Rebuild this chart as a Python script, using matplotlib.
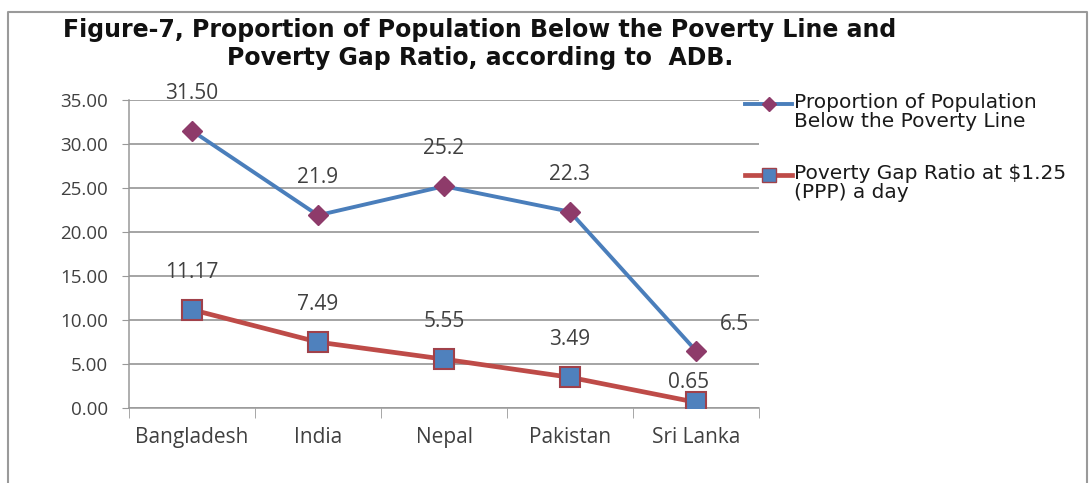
import matplotlib
matplotlib.use("Agg")
import matplotlib.pyplot as plt
from matplotlib.lines import Line2D

countries = ["Bangladesh", "India", "Nepal", "Pakistan", "Sri Lanka"]
below_poverty = [31.50, 21.9, 25.2, 22.3, 6.5]
below_poverty_labels = ["31.50", "21.9", "25.2", "22.3", "6.5"]
gap_ratio = [11.17, 7.49, 5.55, 3.49, 0.65]
gap_ratio_labels = ["11.17", "7.49", "5.55", "3.49", "0.65"]
y_ticks = [0, 5, 10, 15, 20, 25, 30, 35]

series1_name = "Proportion of Population\nBelow the Poverty Line"
series2_name = "Poverty Gap Ratio at $1.25\n(PPP) a day"
title = "Figure-7, Proportion of Population Below the Poverty Line and\nPoverty Gap Ratio, according to  ADB."

W, H = 1091, 483
fig = plt.figure(figsize=(W / 100, H / 100), dpi=100)
fig.patch.set_facecolor("white")

def fx(px):
    return px / W

def fy(py):
    return 1 - py / H

ax = fig.add_axes([fx(129), fy(408), fx(759) - fx(129), fy(100) - fy(408)])

blue = "#4A7EBB"
maroon = "#8E3B6A"
red = "#BE4B48"
sq_blue = "#4F81BD"
label_font = "Open Sans"
text_grey = "#404040"

x = list(range(len(countries)))
ax.plot(x, below_poverty, color=blue, lw=2.8, marker="D", ms=10,
        mfc=maroon, mec=maroon, zorder=4)
ax.plot(x, gap_ratio, color=red, lw=3.4, marker="s", ms=14,
        mfc=sq_blue, mec="#A0414A", mew=1.5, zorder=4)

last = len(countries) - 1
for i, (v, t) in enumerate(zip(below_poverty, below_poverty_labels)):
    off = (0, 27) if i < last else (28, 19)
    ax.annotate(t, (i, v), xytext=off, textcoords="offset points",
                ha="center", va="center", fontsize=15, color=text_grey,
                family=label_font)
for i, (v, t) in enumerate(zip(gap_ratio, gap_ratio_labels)):
    off = (0, 27) if i < last else (-5, 14)
    ax.annotate(t, (i, v), xytext=off, textcoords="offset points",
                ha="center", va="center", fontsize=15, color=text_grey,
                family=label_font)

ax.set_xlim(-0.5, len(countries) - 0.5)
ax.set_ylim(0, 35)
ax.set_yticks(y_ticks)
ax.set_yticklabels([f"{v:.2f}" for v in y_ticks], fontsize=13.5,
                   color=text_grey, family=label_font)
ax.set_xticks(x)
ax.set_xticklabels(countries, fontsize=15, color=text_grey, family=label_font)
ax.tick_params(axis="x", length=0, pad=14)
ax.set_xticks([i - 0.5 for i in range(len(countries) + 1)], minor=True)
ax.tick_params(axis="x", which="minor", length=7, color="#999999", direction="out")
ax.tick_params(axis="y", length=5, color="#999999", pad=10)

ax.grid(axis="y", color="#8C8C8C", lw=1.1)
ax.set_axisbelow(True)
for s in ("top", "right"):
    ax.spines[s].set_visible(False)
for s in ("left", "bottom"):
    ax.spines[s].set_color("#999999")
    ax.spines[s].set_linewidth(1.1)

fig.text(fx(480), fy(44), title, ha="center", va="center", fontsize=17,
         fontweight="bold", family="DejaVu Sans", linespacing=1.2,
         color="#111111")

# legend entries
for (py, name, lc, lw, mk, ms, mfc, mec) in [
        (104, series1_name, blue, 2.8, "D", 7, maroon, maroon),
        (175, series2_name, red, 3.4, "s", 10, sq_blue, "#A0414A")]:
    fig.add_artist(Line2D([fx(745), fx(792)], [fy(py), fy(py)], color=lc, lw=lw))
    fig.add_artist(Line2D([fx(768.5)], [fy(py)], marker=mk, ms=ms, mfc=mfc,
                          mec=mec, color=lc))
    fig.text(fx(794), fy(py - 11), name, ha="left", va="top", fontsize=14.5,
             family="DejaVu Sans", color="#1a1a1a", linespacing=1.0)

# chart frame
fig.add_artist(Line2D([fx(8), fx(8), fx(1087), fx(1087)],
                      [0, fy(12), fy(12), 0], color="#9a9a9a", lw=1.5))

fig.savefig("out.png", dpi=100, facecolor="white")
